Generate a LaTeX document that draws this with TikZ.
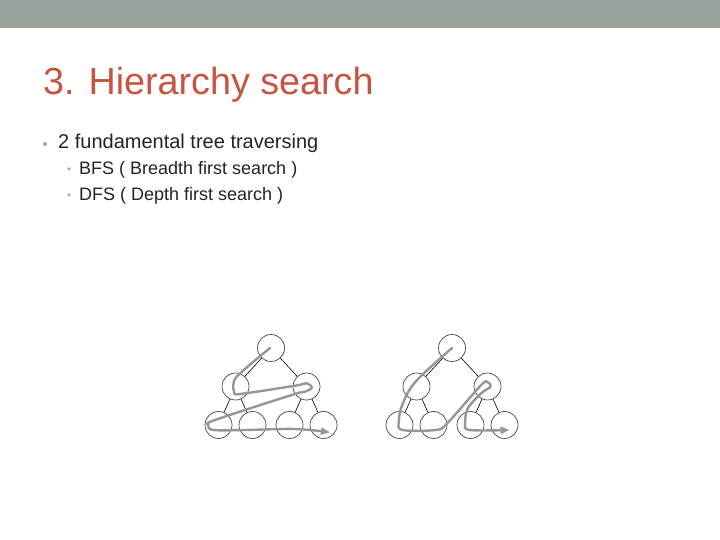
\documentclass[tikz,border=0pt]{standalone}
\usepackage{fontspec}
\setmainfont{Liberation Sans}
\usetikzlibrary{calc,arrows.meta}
\definecolor{barcol}{RGB}{149,163,154}
\definecolor{titlecol}{RGB}{199,84,64}
\definecolor{bodycol}{RGB}{35,35,35}
\definecolor{dotcol}{RGB}{165,165,165}
\definecolor{circcol}{RGB}{70,70,70}
\definecolor{walkcol}{RGB}{150,150,150}

\begin{document}
\begin{tikzpicture}[x=1pt,y=1pt,
      level distance=38.5pt,
      level 1/.style={sibling distance=71pt},  % Spread of the middle row
      level 2/.style={sibling distance=34pt},  % Spread of the leaves
      vertex/.style={circle,draw=circcol,fill=white,line width=0.7pt,minimum size=27pt,inner sep=0pt},
      every child node/.style={vertex},
      edge from parent/.style={draw,line width=0.6pt},
      walk/.style={draw=walkcol,line width=2.4pt,line cap=round,line join=round,-{Triangle[length=9pt,width=7pt]}},
      dot/.style={circle,fill=dotcol,inner sep=0pt,minimum size=4pt},
      line/.style={anchor=base west,inner sep=0pt,text=bodycol}
    ]
    \useasboundingbox[fill=white] (0,0) rectangle (720,540);
    \fill[barcol] (0,512) rectangle (720,540);

    % Title and bullet list
    \node[line,text=titlecol,font=\fontsize{37.7}{42}\selectfont] (title) at (43,445) {3. Hierarchy search};
    \node[line,font=\fontsize{20}{24}\selectfont] (pt1) at (58,391) {2 fundamental tree traversing};
    \node[line,font=\fontsize{18}{22}\selectfont] (pt2) at (79,365) {BFS ( Breadth first search )};
    \node[line,font=\fontsize{18}{22}\selectfont] (pt3) at (79,339) {DFS ( Depth first search )};
    \node[dot] (d1) at ($(pt1.base west)+(-13,5)$) {};
    \node[dot,minimum size=3.5pt] (d2) at ($(pt2.base west)+(-10,6)$) {};
    \node[dot,minimum size=3.5pt] (d3) at ($(pt3.base west)+(-10,6)$) {};

    % BFS tree
    \node[vertex] (lr) at (271,192) {}
        child {node (la) {}
            child {node (l1) {}}
            child {node (l2) {}}
        }
        child {node (lb) {}
            child {node (l3) {}}
            child {node (l4) {}}
        };

    % DFS tree
    \node[vertex] (rr) at (452,192) {}
        child {node (ra) {}
            child {node (r1) {}}
            child {node (r2) {}}
        }
        child {node (rb) {}
            child {node (r3) {}}
            child {node (r4) {}}
        };

    % Breadth first walk
    \draw[walk] plot[smooth,tension=0.55] coordinates {
        ($(lr)+(-1,0)$) ($(la)+(2.8,11.5)$) ($(la)+(-2.2,1.5)$) ($(la)+(-1.2,-5.2)$)
        ($(la)+(4.5,-7.5)$) ($(lb)+(-11.5,0.8)$) ($(lb)+(0.2,3.2)$) ($(lb)+(5.2,-1.2)$)
        ($(lb)+(-1.5,-5.2)$) ($(lb)+(-14.8,-8.5)$) ($(l1)+(-3.5,5)$) ($(l1)+(-10.2,0)$)
        ($(l1)+(-5.2,-5)$) ($(l2)+(-7.5,-5)$) ($(l3)+(5.5,-4)$) ($(l4)+(6.5,-7.3)$)};

    % Depth first walk
    \draw[walk] plot[smooth,tension=0.55] coordinates {
        ($(rr)+(0,0)$) ($(ra)+(-1,4.8)$) ($(r1)+(2.7,20)$) ($(r1)+(-0.7,3.3)$)
        ($(r1)+(2.7,-5)$) ($(r2)+(2,-5)$) ($(r2)+(13.7,1.7)$) ($(rb)+(-6.3,1.5)$)
        ($(rb)+(0.3,4.2)$) ($(rb)+(3,-0.2)$) ($(rb)+(-6.3,-6.8)$) ($(r3)+(-2.7,16.7)$)
        ($(r3)+(-5.3,1.7)$) ($(r3)+(-1,-5)$) ($(r4)+(5,-5)$)};
\end{tikzpicture}
\end{document}
